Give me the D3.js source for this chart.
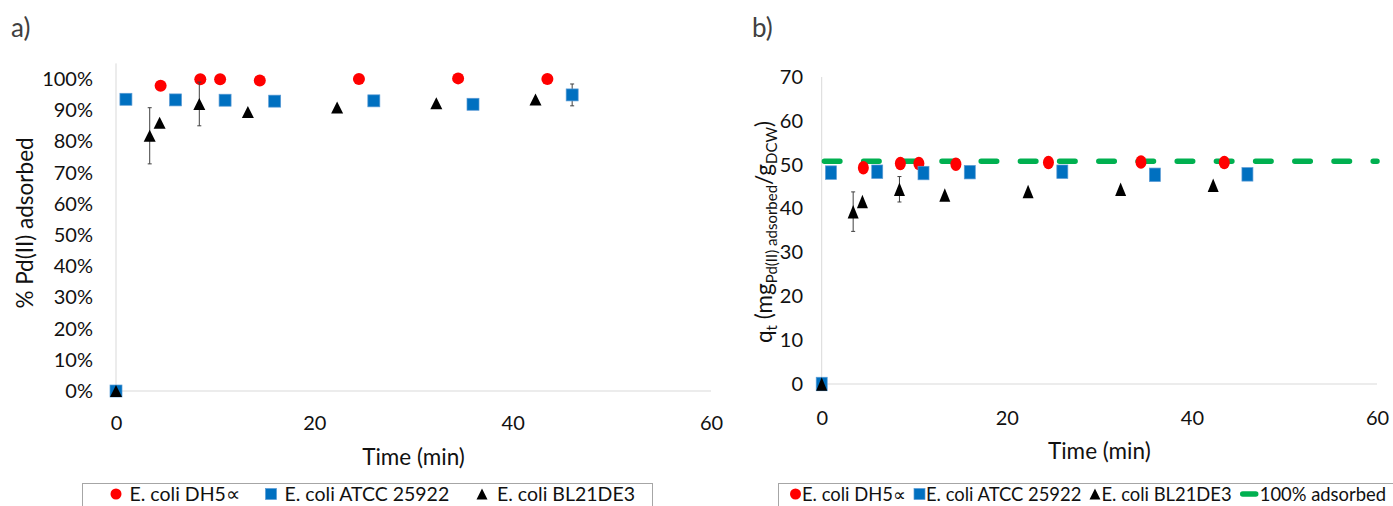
<!DOCTYPE html>
<meta charset="utf-8">
<style>
  body { margin: 0; background: #fff; }
  text { font-family: Lato, "Open Sans", sans-serif; fill: #111; }
</style>
<svg width="1393" height="506"></svg>
<script src="https://cdn.jsdelivr.net/npm/d3@7/dist/d3.min.js"></script>
<script>

// data
var xTicks = [0, 20, 40, 60];
var pctTicks = [0, 10, 20, 30, 40, 50, 60, 70, 80, 90, 100];
var qTicks = [0, 10, 20, 30, 40, 50, 60, 70];

var names = ["E. coli DH5\u221D", "E. coli ATCC 25922", "E. coli BL21DE3"];

var timeDH5 = [4.5, 8.5, 10.5, 14.5, 24.5, 34.5, 43.5];
var pctDH5 = [97.8, 99.9, 99.9, 99.5, 100, 100.2, 100];
var qDH5 = [49.3, 50.3, 50.3, 50.1, 50.5, 50.6, 50.5];

var timeATCC = [0, 1, 6, 11, 16, 26, 36, 46];
var pctATCC = [0, 93.5, 93.3, 93.2, 92.9, 93.0, 91.9, 94.9];
var pctErrATCC = [0, 0, 0, 0, 1, 1.5, 1.5, 3.5];
var qATCC = [0, 48.2, 48.4, 48.1, 48.3, 48.4, 47.7, 47.8];
var qErrATCC = [0, 0, 0, 0, 0, 0, 0.8, 0];

var timeBL21 = [0, 3.4, 4.4, 8.4, 13.3, 22.3, 32.3, 42.3];
var pctBL21 = [0, 81.8, 86, 92, 89.4, 90.9, 92.2, 93.4];
var pctErrBL21 = [0, 9, 0, 7, 0, 0, 0, 0];
var qBL21 = [0, 39.3, 41.6, 44.4, 43.1, 43.9, 44.4, 45.3];
var qErrBL21 = [0, 4.5, 0, 2.9, 0, 0, 0, 0];

var qFull = 50.8;   // 100% adsorbed line

var colors = ["#ff0000", "#0070c0", "#000000", "#00b050"];

var svg = d3.select("svg");

// turn parallel arrays into point lists
function pts(t, v, e) {
  return t.map(function(d, i) { return {t: d, v: v[i], e: e ? e[i] : 0}; });
}

// one marker drawn at (0,0) in a group, w x h box
function marker(g, kind, w, h, color) {
  if (kind == 0) {
    g.append("ellipse").attr("rx", w / 2).attr("ry", h / 2).attr("fill", color);
  } else if (kind == 1) {
    g.append("rect").attr("x", -w / 2).attr("y", -h / 2).attr("width", w).attr("height", h)
      .attr("fill", color).attr("stroke", "#5b9bd5").attr("stroke-width", 0.7);
  } else {
    g.append("path").attr("d", "M0," + (-h / 2) + "L" + (w / 2) + "," + (h / 2) + "L" + (-w / 2) + "," + (h / 2) + "Z")
      .attr("fill", color);
  }
}

function panel(p) {
  var x = d3.scaleLinear().domain([0, 60]).range(p.xr);
  var y = d3.scaleLinear().domain(p.yd).range(p.yr);
  var g = svg.append("g");

  // axis lines
  g.append("line").attr("x1", x(0)).attr("x2", x(60)).attr("y1", y(0)).attr("y2", y(0))
    .attr("stroke", "#d9d9d9").attr("stroke-width", 1);
  g.append("line").attr("x1", x(0)).attr("x2", x(0)).attr("y1", y(0)).attr("y2", y(p.yd[1]))
    .attr("stroke", "#d9d9d9").attr("stroke-width", 1);

  // tick labels
  var ya = d3.axisLeft(y).tickValues(p.yTicks).tickSize(0).tickPadding(0).tickFormat(p.fmt);
  var gy = g.append("g").attr("transform", "translate(" + p.yLabX + ",0)").call(ya);
  gy.select(".domain").remove();
  gy.selectAll("text").attr("font-size", 20).attr("font-family", "Lato").attr("fill", "#111");

  var xa = d3.axisBottom(x).tickValues(xTicks).tickSize(0).tickPadding(0);
  var gx = g.append("g").attr("transform", "translate(0," + p.xLabY + ")").call(xa);
  gx.select(".domain").remove();
  gx.selectAll("text").attr("font-size", 20).attr("font-family", "Lato").attr("fill", "#111").attr("dy", 0);

  g.append("text").attr("x", (p.xr[0] + p.xr[1]) / 2).attr("y", p.titleY)
    .attr("text-anchor", "middle").attr("font-size", 22.5).text("Time (min)");

  // optional reference line
  if (p.refLine != null) {
    g.append("line").attr("x1", x(0)).attr("x2", x(60)).attr("y1", y(p.refLine)).attr("y2", y(p.refLine))
      .attr("stroke", colors[3]).attr("stroke-width", 5.5).attr("stroke-linecap", "round")
      .attr("stroke-dasharray", "15.5,23.7").attr("stroke-dashoffset", -2.7);
  }

  p.series.forEach(function(s, k) {
    var sg = g.append("g");
    // error bars under markers
    s.filter(function(d) { return d.e > 0; }).forEach(function(d) {
      var eb = sg.append("g").attr("stroke", "#404040").attr("stroke-width", 1);
      eb.append("line").attr("x1", x(d.t)).attr("x2", x(d.t)).attr("y1", y(d.v - d.e)).attr("y2", y(d.v + d.e));
      eb.append("line").attr("x1", x(d.t) - 2).attr("x2", x(d.t) + 2).attr("y1", y(d.v - d.e)).attr("y2", y(d.v - d.e));
      eb.append("line").attr("x1", x(d.t) - 2).attr("x2", x(d.t) + 2).attr("y1", y(d.v + d.e)).attr("y2", y(d.v + d.e));
    });
    sg.selectAll("g.m").data(s).enter().append("g").attr("class", "m")
      .attr("transform", function(d) { return "translate(" + x(d.t) + "," + y(d.v) + ")"; })
      .each(function() { marker(d3.select(this), k, p.mw, p.mh, colors[k]); });
  });

  return {x: x, y: y};
}

// panel a
panel({
  xr: [116, 711], yd: [0, 105], yr: [391, 63.4], yTicks: pctTicks,
  fmt: function(d) { return d + "%"; }, yLabX: 93, xLabY: 430, titleY: 465,
  mw: 12, mh: 12, refLine: null,
  series: [pts(timeDH5, pctDH5), pts(timeATCC, pctATCC, pctErrATCC), pts(timeBL21, pctBL21, pctErrBL21)]
});

// panel b
panel({
  xr: [821.7, 1377], yd: [0, 70], yr: [384, 77], yTicks: qTicks,
  fmt: function(d) { return d; }, yLabX: 803, xLabY: 425, titleY: 459,
  mw: 11, mh: 13.5, refLine: qFull,
  series: [pts(timeDH5, qDH5), pts(timeATCC, qATCC, qErrATCC), pts(timeBL21, qBL21, qErrBL21)]
});

// panel letters
svg.append("text").attr("x", 11).attr("y", 37).attr("font-family", "Liberation Sans")
  .attr("font-size", 26).style("fill", "#404040").text("a)");
svg.append("text").attr("x", 752).attr("y", 37).attr("font-family", "Liberation Sans")
  .attr("font-size", 26).style("fill", "#404040").text("b)");

// y titles
svg.append("text").attr("transform", "translate(33,223) rotate(-90)")
  .attr("text-anchor", "middle").attr("font-size", 22.5).text("% Pd(II) adsorbed");

var tb = svg.append("text").attr("transform", "translate(772,232) rotate(-90)")
  .attr("text-anchor", "middle").attr("font-size", 22.5);
tb.append("tspan").text("q");
tb.append("tspan").attr("font-size", 15).attr("dy", 5).text("t");
tb.append("tspan").attr("dy", -5).text(" (mg");
tb.append("tspan").attr("font-size", 15).attr("dy", 5).text("Pd(II) adsorbed");
tb.append("tspan").attr("dy", -5).text("/g");
tb.append("tspan").attr("font-size", 15).attr("dy", 5).text("DCW");
tb.append("tspan").attr("dy", -5).text(")");

// legends
var leg = svg.append("g");
leg.append("rect").attr("x", 82.5).attr("y", 483.5).attr("width", 570).attr("height", 40)
  .attr("fill", "none").attr("stroke", "#a6a6a6");
var legA = [[116, 129.5], [271, 284.5], [482, 497]];
names.forEach(function(n, k) {
  var mg = leg.append("g").attr("transform", "translate(" + legA[k][0] + ",494)");
  marker(mg, k, 11, 11, colors[k]);
  leg.append("text").attr("x", legA[k][1]).attr("y", 501).attr("font-size", 19.5).text(n);
});

leg.append("rect").attr("x", 778.5).attr("y", 483.5).attr("width", 640).attr("height", 40)
  .attr("fill", "none").attr("stroke", "#a6a6a6");
var namesB = names.concat(["100% adsorbed"]);
// place items so the row runs from 790 to 1386
var bTexts = namesB.map(function(n) {
  return leg.append("text").attr("y", 501).attr("font-size", 18.4).text(n);
});
var markW = [12, 12, 12, 20];
var used = d3.sum(bTexts, function(t) { return t.node().getComputedTextLength(); }) + d3.sum(markW);
var gap = Math.max(4, (1386 - 790 - used) / 3);
var bx = 790;
namesB.forEach(function(n, k) {
  if (k < 3) {
    var mg = leg.append("g").attr("transform", "translate(" + (bx + 5.5) + ",494)");
    marker(mg, k, 11, 11, colors[k]);
  } else {
    leg.append("line").attr("x1", bx + 3).attr("x2", bx + 16).attr("y1", 494).attr("y2", 494)
      .attr("stroke", colors[3]).attr("stroke-width", 5.5).attr("stroke-linecap", "round");
  }
  bTexts[k].attr("x", bx + markW[k]);
  bx += markW[k] + bTexts[k].node().getComputedTextLength() + gap;
});

</script>
